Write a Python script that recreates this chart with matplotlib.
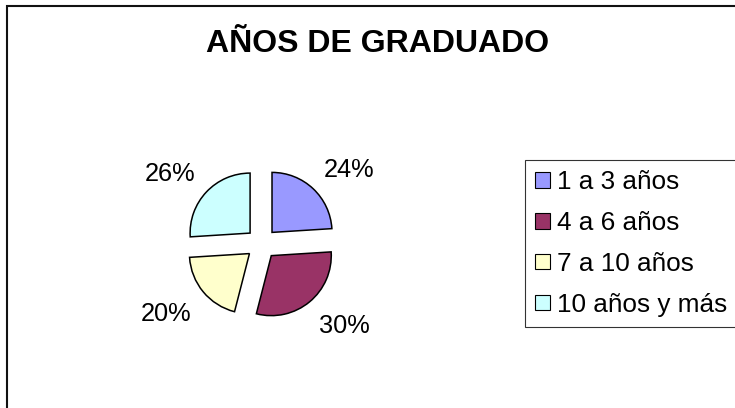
import matplotlib
matplotlib.use("Agg")
import matplotlib.pyplot as plt
from matplotlib.patches import Rectangle
import numpy as np

plt.rcParams['font.family'] = ['Liberation Sans', 'DejaVu Sans']

title = "AÑOS DE GRADUADO"
categories = ["1 a 3 años", "4 a 6 años", "7 a 10 años", "10 años y más"]
values = [24, 30, 20, 26]
colors = ["#9999FF", "#993366", "#FFFFCC", "#CCFFFF"]

W, H = 735, 408
fig = plt.figure(figsize=(W / 100, H / 100), dpi=100)
ax = fig.add_axes([0, 0, 1, 1])

cx, cy, r = 261.4, H - 243.7, 60
wedges, texts, autotexts = ax.pie(
    values, colors=colors, startangle=90, counterclock=False,
    explode=[15.5] * len(values), radius=r, center=(cx, cy),
    autopct='%1.0f%%', pctdistance=1.26,
    wedgeprops=dict(edgecolor='black', linewidth=1.1),
    textprops=dict(fontsize=18.3, color='black'),
)
for w, t in zip(wedges, autotexts):
    ang = np.deg2rad((w.theta1 + w.theta2) / 2)
    t.set_ha('left' if np.cos(ang) > 0 else 'right')
    t.set_va('baseline' if np.sin(ang) > 0 else 'top')

ax.set_xlim(0, W)
ax.set_ylim(0, H)
ax.set_aspect('equal')
ax.axis('off')

# outer chart border (extends beyond right/bottom edges)
fig.add_artist(Rectangle((7 / W, -0.2), 1.2, 1 - 6 / H + 0.2,
                         transform=fig.transFigure, fill=False,
                         edgecolor='#111111', linewidth=1.5))

fig.text(378 / W, 1 - 44 / H, title, ha='center', va='center',
         fontsize=23, fontweight='bold')

leg = fig.legend(wedges, categories, loc='upper left',
                 bbox_to_anchor=(525 / W, 1 - 160 / H),
                 fontsize=18.8, frameon=True, fancybox=False,
                 handlelength=0.54, handleheight=0.54, handletextpad=0.3,
                 labelspacing=0.64, borderpad=0.4, borderaxespad=0)
leg.get_frame().set_edgecolor('black')
leg.get_frame().set_linewidth(0.8)
for h in leg.legend_handles:
    h.set_linewidth(0.8)

fig.savefig('out.png', dpi=100)
